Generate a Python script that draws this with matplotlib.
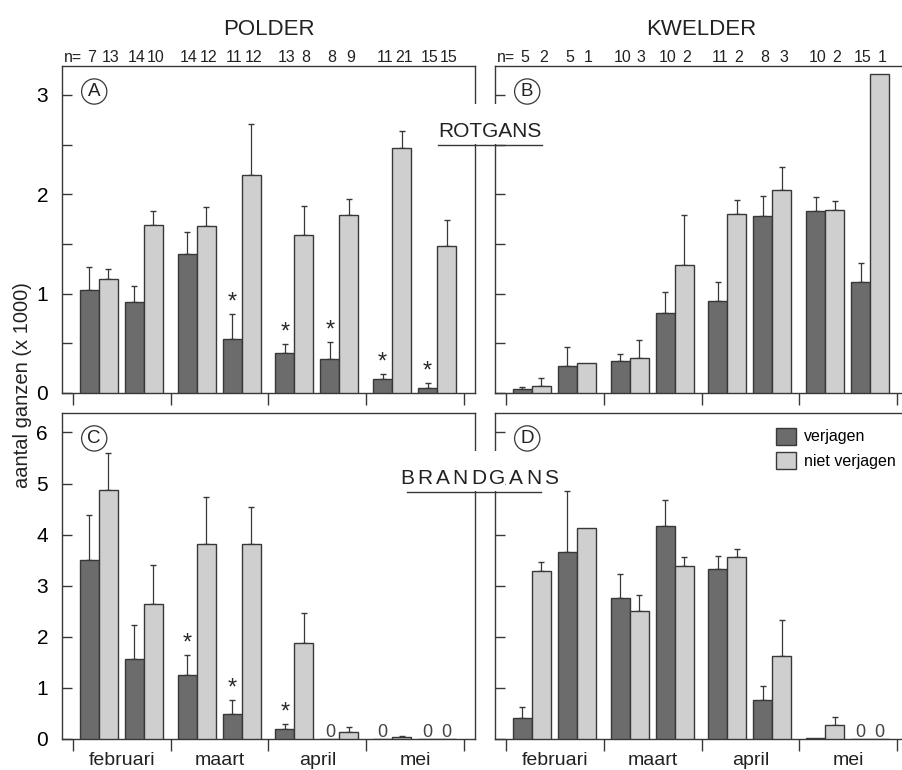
import matplotlib
matplotlib.use("Agg")
import matplotlib.pyplot as plt
import numpy as np
from matplotlib.patches import Patch, Rectangle
from matplotlib.lines import Line2D
from matplotlib import font_manager

# fonts: Helvetica look-alike, narrow one for the small numbers if present
names = {f.name for f in font_manager.fontManager.ttflist}
NARROW = 'Liberation Sans Narrow' if 'Liberation Sans Narrow' in names else 'Liberation Sans'
plt.rcParams['font.family'] = ['Liberation Sans', 'DejaVu Sans']

months = ['februari', 'maart', 'april', 'mei']

# A: rotgans, polder  (2 periods per month)
rot_pol_v = [1.04, 0.92, 1.40, 0.54, 0.40, 0.34, 0.14, 0.05]
rot_pol_v_se = [0.23, 0.16, 0.22, 0.25, 0.09, 0.17, 0.05, 0.05]
rot_pol_nv = [1.15, 1.69, 1.68, 2.19, 1.59, 1.79, 2.46, 1.48]
rot_pol_nv_se = [0.10, 0.14, 0.19, 0.52, 0.29, 0.16, 0.18, 0.26]
rot_pol_stars = [3, 4, 5, 6, 7]
n_pol_v = [7, 14, 14, 11, 13, 8, 11, 15]
n_pol_nv = [13, 10, 12, 12, 8, 9, 21, 15]

# B: rotgans, kwelder
rot_kw_v = [0.037, 0.27, 0.32, 0.80, 0.93, 1.78, 1.83, 1.12]
rot_kw_v_se = [0.026, 0.19, 0.075, 0.22, 0.185, 0.20, 0.14, 0.19]
rot_kw_nv = [0.073, 0.305, 0.355, 1.286, 1.80, 2.04, 1.845, 3.21]
rot_kw_nv_se = [0.08, 0, 0.18, 0.50, 0.14, 0.23, 0.085, 0]
n_kw_v = [5, 5, 10, 10, 11, 8, 10, 15]
n_kw_nv = [2, 1, 3, 2, 2, 3, 2, 1]

# C: brandgans, polder
br_pol_v = [3.50, 1.56, 1.26, 0.49, 0.20, 0, 0, 0]
br_pol_v_se = [0.88, 0.67, 0.39, 0.28, 0.09, 0, 0, 0]
br_pol_nv = [4.88, 2.64, 3.82, 3.82, 1.875, 0.14, 0.03, 0]
br_pol_nv_se = [0.72, 0.77, 0.92, 0.73, 0.60, 0.10, 0.02, 0]
br_pol_stars = [2, 3, 4]

# D: brandgans, kwelder
br_kw_v = [0.42, 3.65, 2.75, 4.17, 3.33, 0.76, 0.02, 0]
br_kw_v_se = [0.20, 1.20, 0.48, 0.50, 0.26, 0.28, 0, 0]
br_kw_nv = [3.29, 4.13, 2.51, 3.39, 3.56, 1.63, 0.28, 0]
br_kw_nv_se = [0.17, 0, 0.30, 0.18, 0.16, 0.70, 0.15, 0]

DARK = '#6c6c6c'
LIGHT = '#cfcfcf'
INK = '#383838'

W, H = 903, 770
fig = plt.figure(figsize=(W / 100, H / 100), dpi=100)


def pos(x0, y0, x1, y1):
    return [x0 / W, 1 - y1 / H, (x1 - x0) / W, (y1 - y0) / H]


def panel(ax, v, v_se, nv, nv_se, ymax, yticks, minor, letter,
          stars=(), labels=True, show_months=False):
    x = np.array([m + h for m in range(4) for h in (0.265, 0.725)])
    w = 0.195
    ax.bar(x - w / 2, v, w, color=DARK, edgecolor=INK, linewidth=1.0, zorder=3)
    ax.bar(x + w / 2, nv, w, color=LIGHT, edgecolor=INK, linewidth=1.0, zorder=3)
    for xs, vals, se in ((x - w / 2, v, v_se), (x + w / 2, nv, nv_se)):
        for xi, vi, si in zip(xs, vals, se):
            if si > 0:
                ax.errorbar(xi, vi, yerr=[[0], [si]], fmt='none', ecolor=INK,
                            elinewidth=0.9, capsize=2.5, capthick=1.0, zorder=2)
            if vi == 0:
                ax.annotate('0', xy=(xi, 0), xytext=(0, 1.5), textcoords='offset points',
                            ha='center', va='baseline', fontsize=13, color='#444444',
                            family=[NARROW, 'Liberation Sans'])
    for i in stars:
        ax.annotate('*', xy=(x[i] - w / 2, v[i] + v_se[i]), xytext=(0, 4),
                    textcoords='offset points', ha='center', va='baseline',
                    fontsize=17, color='#2a2a2a')

    ax.set_xlim(-0.112, 4.112)
    ax.set_ylim(0, ymax)
    ax.set_xticks(range(5))
    ax.set_yticks(yticks)
    if minor is not None:
        ax.set_yticks(minor, minor=True)
    ax.tick_params(axis='x', direction='out', length=8.5, width=1.0, color=INK,
                   labelbottom=False, top=False)
    ax.tick_params(axis='y', which='both', direction='in', length=7, width=1.0,
                   color=INK, right=False, labelleft=labels, labelsize=15, pad=10)
    for s in ax.spines.values():
        s.set_linewidth(1.0)
        s.set_color(INK)
    if show_months:
        for m, name in enumerate(months):
            ax.annotate(name, xy=(m + 0.5, 0), xytext=(0, -19),
                        textcoords='offset points', ha='center', va='baseline',
                        fontsize=14, color='#222222')
    ax.text(0.078, 0.922, letter, transform=ax.transAxes, ha='center', va='center',
            fontsize=13.5, color='#222222',
            bbox=dict(boxstyle='circle,pad=0.22', facecolor='white',
                      edgecolor=INK, linewidth=0.9))
    return x


def nlabels(ax, x, nv_list, nnv_list, title):
    w = 0.195
    kw = dict(xycoords=('data', 'axes fraction'), textcoords='offset points',
              ha='center', va='baseline', fontsize=11.5, color='#222222',
              family=[NARROW, 'Liberation Sans'])
    for xi, a, b in zip(x, nv_list, nnv_list):
        ax.annotate(str(a), xy=(xi - w / 2, 1), xytext=(1.5, 3), **kw)
        ax.annotate(str(b), xy=(xi + w / 2, 1), xytext=(1.5, 3), **kw)
    kw['ha'] = 'right'
    ax.annotate('n=', xy=(x[0] - w / 2, 1), xytext=(-5, 3), **kw)
    ax.annotate(title, xy=(0.5, 1), xycoords='axes fraction', xytext=(0, 22),
                textcoords='offset points', ha='center', va='baseline',
                fontsize=16, color='#222222')


axA = fig.add_axes(pos(62, 66, 475, 393))
axB = fig.add_axes(pos(495, 66, 908, 393))
axC = fig.add_axes(pos(62, 413, 475, 739))
axD = fig.add_axes(pos(495, 413, 908, 739))

xa = panel(axA, rot_pol_v, rot_pol_v_se, rot_pol_nv, rot_pol_nv_se, 3.29,
           [0, 1, 2, 3], [0.5, 1.5, 2.5], 'A', stars=rot_pol_stars)
xb = panel(axB, rot_kw_v, rot_kw_v_se, rot_kw_nv, rot_kw_nv_se, 3.29,
           [0, 1, 2, 3], [0.5, 1.5, 2.5], 'B', labels=False)
panel(axC, br_pol_v, br_pol_v_se, br_pol_nv, br_pol_nv_se, 6.38,
      range(7), None, 'C', stars=br_pol_stars, show_months=True)
panel(axD, br_kw_v, br_kw_v_se, br_kw_nv, br_kw_nv_se, 6.38,
      range(7), None, 'D', labels=False, show_months=True)
axB.spines['right'].set_visible(False)
axD.spines['right'].set_visible(False)

nlabels(axA, xa, n_pol_v, n_pol_nv, 'POLDER')
nlabels(axB, xb, n_kw_v, n_kw_nv, 'KWELDER')

axD.legend(handles=[Patch(facecolor=DARK, edgecolor=INK, linewidth=1.0, label='verjagen'),
                    Patch(facecolor=LIGHT, edgecolor=INK, linewidth=1.0, label='niet verjagen')],
           loc='upper left', bbox_to_anchor=(0.68, 0.955), frameon=False, fontsize=11.5,
           handlelength=1.25, handleheight=1.25, handletextpad=0.5, labelspacing=0.45,
           borderpad=0, borderaxespad=0)

fig.text(23 / W, 1 - 385 / H, 'aantal ganzen (x 1000)', rotation=90, ha='center',
         va='center', fontsize=14.5, color='#222222')


# species labels between the panels, breaking the inner spines
def fx(px):
    return px / W


def fy(py):
    return 1 - py / H


for y0, y1 in ((104, 144), (451, 491)):
    fig.add_artist(Rectangle((fx(465), fy(y1)), fx(40), (y1 - y0) / H,
                             transform=fig.transFigure, facecolor='white',
                             edgecolor='none', zorder=10))

fig.text(fx(438), fy(137), 'ROTGANS', ha='left', va='baseline', fontsize=15,
         color='#222222', zorder=11)
fig.add_artist(Line2D([fx(438), fx(542)], [fy(144.5), fy(144.5)], color=INK,
                      linewidth=1.0, transform=fig.transFigure, zorder=11))

renderer = fig.canvas.get_renderer()
xx = 400
for ch in 'BRANDGANS':
    t = fig.text(fx(xx), fy(484), ch, ha='left', va='baseline', fontsize=15,
                 color='#222222', zorder=11)
    xx += t.get_window_extent(renderer).width + 3.2
fig.add_artist(Line2D([fx(407), fx(541)], [fy(492), fy(492)], color=INK,
                      linewidth=1.0, transform=fig.transFigure, zorder=11))

fig.savefig('out.png', dpi=100)
